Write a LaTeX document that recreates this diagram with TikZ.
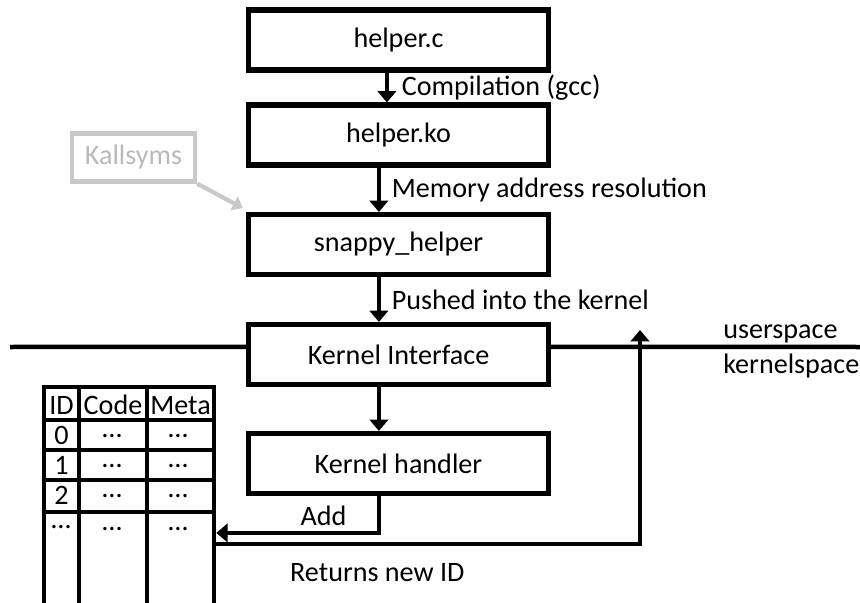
\documentclass[tikz,border=0pt]{standalone}
\usepackage{fontspec}
\setmainfont{Carlito}
\usetikzlibrary{arrows.meta}
\definecolor{kallgray}{RGB}{200,200,200}
\definecolor{kalltext}{RGB}{185,185,185}
\begin{document}
\begin{tikzpicture}[x=0.025cm, y=-0.025cm,
	>={Triangle[width=13pt,length=8pt]},
	every node/.style={font=\fontsize{20}{24}\selectfont},
	stagebox/.style={draw=black, text=black, shape=rectangle, line width=3.6pt, minimum width=7.5cm, minimum height=1.5cm},
	flow/.style={line width=3.2pt},
	cell/.style={anchor=base, inner sep=0pt}]
	\useasboundingbox (0,0) rectangle (860,603);

	\node[stagebox] (helperc) at (398.5,40) {helper.c};
	\node[stagebox] (helperko) at (398.5,135) {helper.ko};
	\node[stagebox] (snappy) at (398.5,244.5) {snappy\_helper};
	\node[stagebox] (kinterface) at (398.5,354.5) {Kernel Interface};
	\node[stagebox] (khandler) at (398.5,463.5) {Kernel handler};

	\draw[flow,->] ([xshift=-0.29cm]helperc.south) -- node[right, xshift=0.2cm] (compile) {Compilation (gcc)} ([xshift=-0.29cm]helperko.north);
	\draw[flow,->] ([xshift=-0.49cm]helperko.south) -- node[right, xshift=0.15cm] (resolve) {Memory address resolution} ([xshift=-0.49cm]snappy.north);
	\draw[flow,->] ([xshift=-0.49cm]snappy.south) -- node[right, xshift=0.15cm] (push) {Pushed into the kernel} ([xshift=-0.49cm]kinterface.north);
	\draw[flow,->] ([xshift=-0.49cm]kinterface.south) -- ([xshift=-0.49cm]khandler.north);

	\node[draw=kallgray, text=kalltext, line width=3.2pt, minimum width=3.075cm, minimum height=1.2cm] (kallsyms) at (133.5,157.5) {Kallsyms};
	\draw[draw=kallgray, line width=3pt, ->, >={Triangle[width=11pt,length=7pt]}] (kallsyms.south east) -- ([xshift=-0.08cm,yshift=0.1cm]snappy.north west);

	\coordinate (sepleft) at (10,347);
	\coordinate (sepright) at (860,347);
	\draw[flow] (sepleft) -- ([yshift=0.19cm]kinterface.west);
	\draw[flow] ([yshift=0.19cm]kinterface.east) -- (sepright);
	\node[anchor=base west, inner sep=0pt] (user) at (723,338) {userspace};
	\node[anchor=base west, inner sep=0pt] (kernel) at (723,373) {kernelspace};

	\node[draw=black, line width=3.2pt, minimum width=4.25cm, minimum height=6.575cm, inner sep=0pt] (idtable) at (129,518.5) {};
	\foreach \x in {79,147} \draw[flow] (idtable.north -| \x,0) -- (idtable.south -| \x,0);
	\foreach \y in {420,450,480,512} \draw[flow] (idtable.west |- 0,\y) -- (idtable.east |- 0,\y);
	\node[cell] (hid) at (61.5,414) {ID};
	\node[cell] (hcode) at (113,414) {Code};
	\node[cell] (hmeta) at (180.5,414) {Meta};
	\foreach \n/\y in {0/444,1/474,2/504} {
		\node[cell] (id\n) at (61.5,\y) {\n};
		\node[inner sep=0pt] (code\n) at (112,\y-8) {…};
		\node[inner sep=0pt] (meta\n) at (178,\y-8) {…};
	}
	\node[inner sep=0pt] (idmore) at (61,527) {…};
	\node[inner sep=0pt] (codemore) at (112,529) {…};
	\node[inner sep=0pt] (metamore) at (178,529) {…};

	\coordinate (retend) at (640,330);
	\draw[flow,->] ([xshift=-0.49cm]khandler.south) |- node[above, pos=0.67] (add) {Add} ([yshift=-0.36cm]idtable.east);
	\draw[flow,->] ([yshift=-0.64cm]idtable.east) -| node[below=0.3cm, pos=0.19] (ret) {Returns new ID} (retend);
\end{tikzpicture}
\end{document}
